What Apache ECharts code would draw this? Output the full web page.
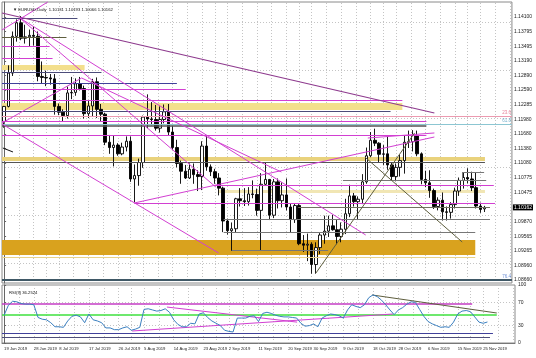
<!DOCTYPE html>
<html><head><meta charset="utf-8">
<script src="https://cdn.jsdelivr.net/npm/echarts@6/dist/echarts.min.js"></script>
<style>html,body{margin:0;padding:0;background:#fff}#c{width:536px;height:358px}</style>
</head><body><div id="c"></div>
<script>
// ---------- DATA ----------
const categories = [
 '19 Jun 2019','20 Jun 2019','21 Jun 2019','24 Jun 2019','25 Jun 2019','26 Jun 2019','27 Jun 2019','28 Jun 2019',
 '1 Jul 2019','2 Jul 2019','3 Jul 2019','4 Jul 2019','5 Jul 2019','8 Jul 2019','9 Jul 2019','10 Jul 2019','11 Jul 2019','12 Jul 2019','15 Jul 2019','16 Jul 2019','17 Jul 2019','18 Jul 2019','19 Jul 2019','22 Jul 2019','23 Jul 2019','24 Jul 2019','25 Jul 2019','26 Jul 2019','29 Jul 2019','30 Jul 2019','31 Jul 2019',
 '1 Aug 2019','2 Aug 2019','5 Aug 2019','6 Aug 2019','7 Aug 2019','8 Aug 2019','9 Aug 2019','12 Aug 2019','13 Aug 2019','14 Aug 2019','15 Aug 2019','16 Aug 2019','19 Aug 2019','20 Aug 2019','21 Aug 2019','22 Aug 2019','23 Aug 2019','26 Aug 2019','27 Aug 2019','28 Aug 2019','29 Aug 2019','30 Aug 2019',
 '2 Sep 2019','3 Sep 2019','4 Sep 2019','5 Sep 2019','6 Sep 2019','9 Sep 2019','10 Sep 2019','11 Sep 2019','12 Sep 2019','13 Sep 2019','16 Sep 2019','17 Sep 2019','18 Sep 2019','19 Sep 2019','20 Sep 2019','23 Sep 2019','24 Sep 2019','25 Sep 2019','26 Sep 2019','27 Sep 2019','30 Sep 2019',
 '1 Oct 2019','2 Oct 2019','3 Oct 2019','4 Oct 2019','7 Oct 2019','8 Oct 2019','9 Oct 2019','10 Oct 2019','11 Oct 2019','14 Oct 2019','15 Oct 2019','16 Oct 2019','17 Oct 2019','18 Oct 2019','21 Oct 2019','22 Oct 2019','23 Oct 2019','24 Oct 2019','25 Oct 2019','28 Oct 2019','29 Oct 2019','30 Oct 2019','31 Oct 2019',
 '1 Nov 2019','4 Nov 2019','5 Nov 2019','6 Nov 2019','7 Nov 2019','8 Nov 2019','11 Nov 2019','12 Nov 2019','13 Nov 2019','14 Nov 2019','15 Nov 2019','18 Nov 2019','19 Nov 2019','20 Nov 2019','21 Nov 2019','22 Nov 2019','25 Nov 2019','26 Nov 2019','27 Nov 2019','28 Nov 2019','29 Nov 2019',
 '2 Dec 2019','3 Dec 2019','4 Dec 2019'
];
const opens = [
 1.1194,1.1225,1.1294,1.1370,1.1398,1.1366,1.1369,1.1372,
 1.1370,1.1287,1.1285,1.1284,1.1282,1.1225,1.1213,1.1206,1.1253,1.1254,1.1272,1.1262,1.1210,1.1226,1.1276,1.1219,1.1209,1.1151,1.1140,1.1145,1.1127,1.1141,1.1153,
 1.1075,1.1082,1.1109,1.1203,1.1199,1.1198,1.1180,1.1198,1.1214,1.1172,1.1140,1.1107,1.1091,1.1077,1.1095,1.1084,1.1080,1.1143,1.1100,1.1090,1.1077,1.1056,
 1.0988,1.0968,1.0972,1.1034,1.1030,1.1028,1.1044,1.1043,1.1010,1.1064,1.1074,1.1000,1.1069,1.1030,1.1042,1.1017,1.0991,1.1020,1.0941,1.0938,1.0940,
 1.0898,1.0933,1.0959,1.0967,1.0978,1.0970,1.0956,1.0971,1.1003,1.1040,1.1028,1.1033,1.1069,1.1123,1.1155,1.1149,1.1126,1.1127,1.1104,1.1080,1.1099,1.1113,1.1151,
 1.1152,1.1165,1.1127,1.1074,1.1067,1.1051,1.1018,1.1031,1.1007,1.1006,1.1022,1.1050,1.1072,1.1078,1.1075,1.1057,1.1019,1.10131
];
const highs = [
 1.1226,1.1310,1.1380,1.1405,1.1412,1.1394,1.1384,1.1390,
 1.1380,1.1318,1.1299,1.1292,1.1292,1.1231,1.1219,1.1266,1.1286,1.1283,1.1286,1.1268,1.1237,1.1282,1.1285,1.1230,1.1212,1.1166,1.1164,1.1149,1.1150,1.1163,1.1163,
 1.1105,1.1117,1.1206,1.1250,1.1234,1.1228,1.1225,1.1229,1.1230,1.1185,1.1156,1.1113,1.1104,1.1107,1.1107,1.1093,1.1153,1.1164,1.1105,1.1096,1.1087,1.1059,
 1.0993,1.0985,1.1036,1.1056,1.1056,1.1058,1.1072,1.1055,1.1087,1.1110,1.1075,1.1075,1.1076,1.1068,1.1076,1.1025,1.1025,1.1023,1.0959,1.0962,1.0944,
 1.0944,1.0963,1.0999,1.0999,1.1001,1.0990,1.0985,1.1034,1.1063,1.1046,1.1039,1.1085,1.1140,1.1172,1.1179,1.1151,1.1145,1.1163,1.1109,1.1107,1.1125,1.1164,1.1175,
 1.1176,1.1175,1.1130,1.1092,1.1093,1.1055,1.1037,1.1047,1.1018,1.1027,1.1057,1.1078,1.1089,1.1097,1.1090,1.1089,1.1026,1.10193
];
const lows = [
 1.1181,1.1223,1.1288,1.1359,1.1362,1.1355,1.1350,1.1351,
 1.1277,1.1273,1.1267,1.1270,1.1208,1.1207,1.1193,1.1200,1.1240,1.1247,1.1258,1.1200,1.1201,1.1204,1.1201,1.1195,1.1145,1.1127,1.1101,1.1123,1.1124,1.1132,1.1069,
 1.1027,1.1061,1.1098,1.1180,1.1186,1.1175,1.1171,1.1190,1.1165,1.1135,1.1099,1.1065,1.1075,1.1075,1.1065,1.1050,1.1052,1.1092,1.1081,1.1065,1.1041,1.0965,
 1.0960,1.0926,1.0964,1.1018,1.1019,1.1020,1.1035,1.0999,1.0927,1.1062,1.0990,1.0994,1.1014,1.1016,1.1010,1.0965,1.0984,1.0938,1.0924,1.0905,1.0879,
 1.0879,1.0920,1.0941,1.0955,1.0968,1.0940,1.0944,1.0961,1.0996,1.1018,1.0990,1.1023,1.1065,1.1120,1.1143,1.1110,1.1104,1.1094,1.1072,1.1070,1.1080,1.1086,1.1139,
 1.1132,1.1122,1.1064,1.1058,1.1036,1.1013,1.1010,1.0989,1.0989,1.0993,1.1014,1.1040,1.1055,1.1066,1.1050,1.1014,1.1005,1.10066
];
const closes = [
 1.1225,1.1294,1.1370,1.1398,1.1366,1.1369,1.1372,1.1370,
 1.1287,1.1285,1.1284,1.1282,1.1225,1.1213,1.1206,1.1253,1.1254,1.1272,1.1262,1.1210,1.1226,1.1276,1.1219,1.1209,1.1151,1.1140,1.1145,1.1127,1.1141,1.1153,1.1075,
 1.1082,1.1109,1.1203,1.1199,1.1198,1.1180,1.1198,1.1214,1.1172,1.1140,1.1107,1.1091,1.1077,1.1095,1.1084,1.1080,1.1143,1.1100,1.1090,1.1077,1.1056,1.0988,
 1.0968,1.0972,1.1034,1.1030,1.1028,1.1044,1.1043,1.1010,1.1064,1.1074,1.1000,1.1069,1.1030,1.1042,1.1017,1.0991,1.1020,1.0941,1.0938,1.0940,1.0898,
 1.0933,1.0959,1.0967,1.0978,1.0970,1.0956,1.0971,1.1003,1.1040,1.1028,1.1033,1.1069,1.1123,1.1155,1.1149,1.1126,1.1127,1.1104,1.1080,1.1099,1.1113,1.1151,1.1152,
 1.1165,1.1127,1.1074,1.1067,1.1051,1.1018,1.1031,1.1007,1.1006,1.1022,1.1050,1.1072,1.1078,1.1075,1.1057,1.1019,1.1012,1.10162
];
const rsiValues = [
 48,65,72,71,68,67,67,66,44,41,
 40,35,28,28,27,38,46,48,45,35,
 50,40,38,35,26,26,23,23,26,28,
 22,24,27,58,59,57,55,56,59,53,
 40,32,28,28,34,33,50,52,44,38,
 34,30,22,20,19,43,43,43,46,47,
 37,51,53,51,48,46,45,45,44,43,
 34,29,30,33,28,43,47,50,49,47,
 43,57,66,63,61,66,78,83,80,74,
 66,57,49,57,61,67,71,70,58,46,
 37,33,30,27,28,27,36,50,55,56,
 54,45,36,34,36.25
];
const priceTicks = ['1.14100','1.13795','1.13495','1.13190','1.12890','1.12590','1.12285','1.11980','1.11680','1.11380','1.11080','1.10775','1.10475','1.10170','1.09870','1.09565','1.09265','1.08960','1.08660'];
const rsiTicks = ['100','70','30','0'];
const dateLabels = ['19 Jun 2019','28 Jun 2019','8 Jul 2019','17 Jul 2019','26 Jul 2019','5 Aug 2019','14 Aug 2019','23 Aug 2019','2 Sep 2019','11 Sep 2019','20 Sep 2019','30 Sep 2019','9 Oct 2019','18 Oct 2019','28 Oct 2019','6 Nov 2019','15 Nov 2019','25 Nov 2019'];
const lastPrice = 1.10162;
const hiddenTick = '1.10170';
const titleText = '\u25BC EURUSD,Daily  1.10131 1.10193 1.10066 1.10162';
const rsiTitle = 'RSI(9) 36.2524';

// drawn objects in data units: [price, fromBar, toBar, style]
const hSegments = [
 [1.14079,-0.5,17.4,'slate'],[1.13686,-0.5,14.8,'olive'],[1.13500,-0.5,10.8,'magenta'],[1.13252,-0.5,11.5,'magenta'],
 [1.12962,-0.5,23.1,'slate'],[1.12735,-0.5,41.0,'navy'],[1.12611,-0.5,43.1,'magenta'],[1.12383,-0.5,94.5,'magenta'],
 [1.12156,-0.5,91.7,'slate'],[1.12052,-0.5,120.5,'pink'],[1.11949,-0.5,100.2,'magenta'],[1.11886,-0.5,120.5,'teal'],
 [1.11845,-0.5,100.2,'dark2'],[1.11659,-0.5,100.2,'magenta'],[1.11101,-0.5,114.1,'dark'],[1.10894,108.7,113.9,'gray'],
 [1.10728,80.4,114.4,'gray'],[1.10625,49.7,116.2,'magenta'],[1.10253,30.9,116.5,'magenta'],[1.10170,69.8,115.3,'olivegray'],
 [1.09922,52.1,115.3,'gray'],[1.09653,52.1,111.8,'gray'],[1.09280,54.0,76.9,'gray'],[1.09136,-0.5,111.8,'tan'],
 [1.08660,-0.5,120.5,'fib']
];
// [bar1, price1, bar2, price2, style]
const dSegments = [
 [-0.5,1.14183,102.1,1.12114,'purple'],[-0.5,1.13831,10.35,1.14410,'magenta'],[3.75,1.14079,85.8,1.09591,'magenta'],
 [-0.5,1.11886,50.9,1.09219,'magenta'],[3.75,1.14079,50.2,1.10584,'magenta'],[18.4,1.12838,65.8,1.10894,'magenta'],
 [-0.5,1.11907,18.4,1.12838,'magenta'],[30.9,1.10253,102.1,1.11618,'magenta'],[86.3,1.11597,102.1,1.11701,'magenta'],
 [74.0,1.08805,97.4,1.11701,'olive'],[85.6,1.11204,108.7,1.09446,'olive'],[-0.3,1.11390,2.1,1.11308,'black'],
 [108.7,1.10894,108.7,1.10728,'gray']
];
// [priceLow, priceHigh, fromBar, toBar, style]
const bands = [
 [1.13004,1.13107,-0.5,19.1,'paleYellow'],[1.12176,1.12321,-0.5,94.5,'paleYellow'],[1.11121,1.11204,-0.5,114.1,'khaki'],
 [1.10460,1.10522,50.9,114.1,'paleKhaki'],[1.09177,1.09487,-0.5,111.8,'gold']
];
// fib labels: [bar, price, text, style]
const fibLabels = [[120.3,1.12052,'23.6','fibPink'],[120.3,1.11886,'61.8','fibTeal'],[120.3,1.08660,'76.4','fibBlue']];
// RSI objects
const rsiHLines = [[67,-0.5,110.4,'magentaThick'],[48,-0.5,116.2,'green'],[17,-0.5,115.3,'navy'],[10,-0.5,114.6,'slate']];
const rsiDLines = [[30.2,20.7,91.7,50,'magenta'],[38.4,62,69.1,36,'magenta'],[86.8,82.8,116.2,51.7,'olive']];

// ---------- STYLES ----------
const lineStyles = {
 magenta:{color:'#d23fd2',width:1}, magentaThick:{color:'#c43cc4',width:1.6}, purple:{color:'#8e3a8e',width:1.2},
 slate:{color:'#4c4c7a',width:1}, navy:{color:'#40409a',width:1}, olive:{color:'#5e5e3e',width:1}, black:{color:'#111',width:1},
 pink:{color:'#ec9ab0',width:1}, teal:{color:'#8cc6d2',width:1}, dark:{color:'#555',width:1}, dark2:{color:'#555',width:1.6},
 gray:{color:'#777',width:1}, olivegray:{color:'#707060',width:1}, tan:{color:'#e8d28a',width:1}, fib:{color:'#3f5866',width:2},
 green:{color:'#3ee03e',width:1.6}
};
const fillColors = {paleYellow:'#f3df8c', khaki:'#e9d27c', paleKhaki:'#f1e6b4', gold:'#d9a21e'};
const textColors = {fibPink:'#e0607e', fibTeal:'#4f9cbf', fibBlue:'#4a74cc'};
const FONT = 'Liberation Sans';

// ---------- BUILD ----------
const N = categories.length;
const candleData = opens.map((o,i)=>[o, closes[i], lows[i], highs[i]]);
const labelIdx = dateLabels.map(d=>categories.indexOf(d));
const gridXs = [];
labelIdx.forEach((v,i)=>{ gridXs.push(v); const nx = i<labelIdx.length-1 ? labelIdx[i+1] : v+7; gridXs.push((v+nx)/2); });
gridXs.push(labelIdx[labelIdx.length-1]+7);
const labelSet = new Set(dateLabels);
const dotted = {color:'#c4c4c4', width:1, type:[1,2]};

const mainGridLines = [
 ...gridXs.map(x=>({xAxis:x, lineStyle:dotted})),
 ...priceTicks.map(t=>({yAxis:parseFloat(t), lineStyle:dotted}))
];
const segLines = [
 ...hSegments.map(s=>[{coord:[s[1],s[0]], lineStyle:Object.assign({type:'solid'},lineStyles[s[3]])},{coord:[s[2],s[0]]}]),
 ...dSegments.map(s=>[{coord:[s[0],s[1]], lineStyle:Object.assign({type:'solid'},lineStyles[s[4]])},{coord:[s[2],s[3]]}])
];
const bandAreas = bands.map(b=>[{coord:[b[2],b[1]], itemStyle:{color:fillColors[b[4]], opacity:1}},{coord:[b[3],b[0]]}]);
const rsiGridLines = [
 ...gridXs.map(x=>({xAxis:x, lineStyle:dotted})),
 {yAxis:70, lineStyle:dotted},{yAxis:30, lineStyle:dotted}
];
const rsiSegs = [
 ...rsiHLines.map(s=>[{coord:[s[1],s[0]], lineStyle:Object.assign({type:'solid'},lineStyles[s[3]])},{coord:[s[2],s[0]]}]),
 ...rsiDLines.map(s=>[{coord:[s[0],s[1]], lineStyle:Object.assign({type:'solid'},lineStyles[s[4]])},{coord:[s[2],s[3]]}])
];
const fibPoints = fibLabels.map(f=>({value:[f[0],f[1]], label:{formatter:f[2], color:textColors[f[3]]}}));

const chart = echarts.init(document.getElementById('c'), null, {renderer:'canvas'});
chart.setOption({
 animation:false,
 backgroundColor:'#fff',
 textStyle:{fontFamily:FONT},
 title:[
  {text:titleText, left:8, top:3, textStyle:{fontSize:4.2, fontWeight:'normal', color:'#111', fontFamily:FONT}},
  {text:rsiTitle, left:4, top:286, textStyle:{fontSize:4.2, fontWeight:'normal', color:'#111', fontFamily:FONT}}
 ],
 grid:[
  {left:2, right:21, top:2, height:281, show:true, borderColor:'#8a8a8a', borderWidth:1, backgroundColor:'#fff'},
  {left:2, right:21, top:285, height:58, show:true, borderColor:'#8a8a8a', borderWidth:1, backgroundColor:'#fff'}
 ],
 xAxis:[
  {type:'category', gridIndex:0, data:categories, boundaryGap:true, axisLine:{show:false}, axisTick:{show:false}, axisLabel:{show:false}, splitLine:{show:false}},
  {type:'value', gridIndex:0, min:-0.5, max:N-0.5, show:false},
  {type:'category', gridIndex:1, data:categories, boundaryGap:true, axisLine:{show:true, lineStyle:{color:'#777'}}, axisTick:{show:false},
   axisLabel:{show:true, interval:(i,v)=>labelSet.has(v), hideOverlap:false, align:'left', fontSize:4.2, color:'#222', margin:4, fontFamily:FONT}, splitLine:{show:false}},
  {type:'value', gridIndex:1, min:-0.5, max:N-0.5, show:false}
 ],
 yAxis:[
  {type:'value', gridIndex:0, min:1.08598, max:1.14410, position:'right', axisLine:{show:true, lineStyle:{color:'#666'}},
   axisTick:{show:true, length:2, customValues:priceTicks.map(Number), lineStyle:{color:'#666'}},
   axisLabel:{show:true, customValues:priceTicks.map(Number), formatter:v=>{const s=v.toFixed(5); return s===hiddenTick?'':s;}, fontSize:5, color:'#222', margin:2, fontFamily:FONT},
   splitLine:{show:false}},
  {type:'value', gridIndex:1, min:0, max:100, position:'right', axisLine:{show:true, lineStyle:{color:'#666'}},
   axisTick:{show:true, length:2, customValues:rsiTicks.map(Number), lineStyle:{color:'#666'}},
   axisLabel:{show:true, customValues:rsiTicks.map(Number), formatter:v=>String(v), fontSize:5, color:'#222', margin:3, fontFamily:FONT},
   splitLine:{show:false}},
  {type:'value', gridIndex:0, min:1.08598, max:1.14410, position:'right', axisLine:{show:false}, axisTick:{show:false}, splitLine:{show:false},
   axisLabel:{show:true, customValues:[lastPrice], formatter:v=>v.toFixed(5), fontSize:5, color:'#fff', backgroundColor:'#000', padding:[1,1,0,1], margin:1, fontFamily:FONT}}
 ],
 series:[
  {type:'line', xAxisIndex:1, yAxisIndex:0, data:[[0,lastPrice]], symbol:'none', lineStyle:{opacity:0}, silent:true, clip:false, z:0,
   markLine:{silent:true, symbol:['none','none'], z:0, label:{show:false}, emphasis:{disabled:true}, data:mainGridLines},
   markArea:{silent:true, z:1, label:{show:false}, emphasis:{disabled:true}, data:bandAreas}},
  {type:'candlestick', xAxisIndex:0, yAxisIndex:0, data:candleData, barWidth:3, z:2, silent:true,
   itemStyle:{color:'#ffffff', color0:'#000000', borderColor:'#000000', borderColor0:'#000000', borderWidth:0.9}},
  {type:'line', xAxisIndex:1, yAxisIndex:0, data:[[0,lastPrice]], symbol:'none', lineStyle:{opacity:0}, silent:true, clip:false, z:5,
   markLine:{silent:true, symbol:['none','none'], z:5, label:{show:false}, emphasis:{disabled:true}, data:segLines}},
  {type:'scatter', xAxisIndex:1, yAxisIndex:0, data:fibPoints, symbolSize:0, silent:true, z:6,
   label:{show:true, position:'left', offset:[0,-3], distance:0, fontSize:4.5, fontFamily:FONT}},
  {type:'line', xAxisIndex:3, yAxisIndex:1, data:[[0,50]], symbol:'none', lineStyle:{opacity:0}, silent:true, clip:false, z:0,
   markLine:{silent:true, symbol:['none','none'], z:0, label:{show:false}, emphasis:{disabled:true}, data:rsiGridLines}},
  {type:'line', xAxisIndex:3, yAxisIndex:1, data:[[0,50]], symbol:'none', lineStyle:{opacity:0}, silent:true, clip:false, z:3,
   markLine:{silent:true, symbol:['none','none'], z:3, label:{show:false}, emphasis:{disabled:true}, data:rsiSegs}},
  {type:'line', xAxisIndex:2, yAxisIndex:1, data:rsiValues, symbol:'none', smooth:false, z:4, silent:true,
   lineStyle:{color:'#3a7fc0', width:1}}
 ]
});
</script>
</body></html>
